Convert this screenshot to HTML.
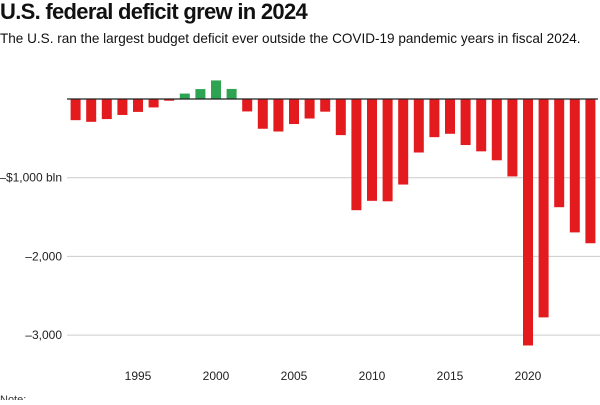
<!DOCTYPE html>
<html><head><meta charset="utf-8"><style>
body{margin:0;width:600px;height:400px;overflow:hidden;background:#fff;font-family:"Liberation Sans",Arial,sans-serif;}
</style></head><body>
<svg width="600" height="400">
<text x="0" y="19" font-size="22" font-weight="bold" letter-spacing="-0.7" fill="#111">U.S. federal deficit grew in 2024</text>
<text x="0" y="43" font-size="13.55" fill="#111">The U.S. ran the largest budget deficit ever outside the COVID-19 pandemic years in fiscal 2024.</text>
<g id="grid"></g><g id="bars"></g><g id="xl"></g>
<text x="0" y="403" font-size="11" fill="#333">Note:</text>
</svg>
<script>
const years=[1991,1992,1993,1994,1995,1996,1997,1998,1999,2000,2001,2002,2003,2004,2005,2006,2007,2008,2009,2010,2011,2012,2013,2014,2015,2016,2017,2018,2019,2020,2021,2022,2023,2024];
const values=[-269,-290,-255,-203,-164,-107,-22,69,126,236,128,-158,-378,-413,-318,-248,-161,-459,-1413,-1294,-1300,-1087,-680,-485,-442,-585,-665,-779,-984,-3132,-2775,-1375,-1695,-1833];
const yTicks=[-1000,-2000,-3000];
const yTickLabels=["\u2013$1,000 bln","\u20132,000","\u20133,000"];
const xTicks=[1995,2000,2005,2010,2015,2020];
const NS="http://www.w3.org/2000/svg";
const y=v=>99-v*0.0787;
const x=yr=>75.6+(yr-1991)*15.6;
const grid=document.getElementById('grid'),bars=document.getElementById('bars'),xl=document.getElementById('xl');
function mk(tag,attrs,parent){const e=document.createElementNS(NS,tag);for(const k in attrs)e.setAttribute(k,attrs[k]);parent.appendChild(e);return e;}
yTicks.forEach((t,i)=>{
 const l=mk('line',{x1:67,x2:600,y1:y(t),y2:y(t),stroke:'#ccc','stroke-width':1},grid);
 
 
 const tx=mk('text',{x:62,y:y(t)+4,'font-size':12,'text-anchor':'end',fill:'#222'},grid);
 tx.textContent=yTickLabels[i];
 
 
});
values.forEach((v,i)=>{
 const top=Math.min(y(v),y(0)),h=Math.abs(y(v)-y(0));
 const r=mk('rect',{x:x(years[i])-5,y:top,width:10,height:Math.max(h,1),fill:v<0?'#e31b1f':'#2ea452'},bars);
 
 
});
const zl=mk('line',{x1:67,x2:598,y1:y(0),y2:y(0),stroke:'#222','stroke-width':1.3},bars);


xTicks.forEach(t=>{
 const tx=mk('text',{x:x(t),y:380,'font-size':12,'text-anchor':'middle',fill:'#222'},xl);
 tx.textContent=t;
 
 
});
</script>
</body></html>
